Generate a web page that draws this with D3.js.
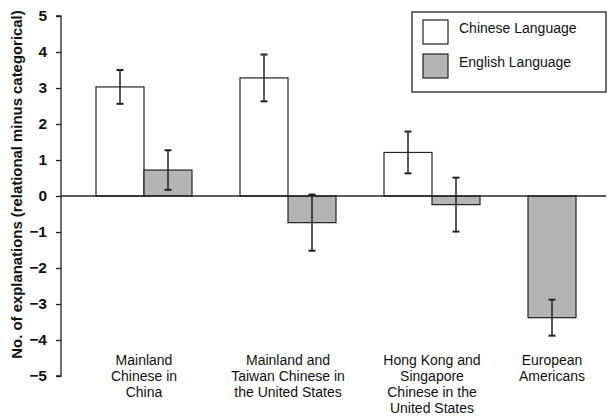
<!DOCTYPE html>
<html>
<head>
<meta charset="utf-8">
<script src="https://cdn.jsdelivr.net/npm/d3@7"></script>
<style>
  html, body { margin: 0; padding: 0; background: #fff; }
  svg { display: block; font-family: "Liberation Sans", Arial, Helvetica, sans-serif; }
</style>
</head>
<body>
<svg id="chart" width="608" height="417"></svg>
<script>
// Groups of participants (each label split into its printed lines)
const categories = [
  ["Mainland", "Chinese in", "China"],
  ["Mainland and", "Taiwan Chinese in", "the United States"],
  ["Hong Kong and", "Singapore", "Chinese in the", "United States"],
  ["European", "Americans"]
];
const categoryKeys = ["mainland", "mainlandTaiwan", "hkSingapore", "european"];

// Mean number of explanations (relational minus categorical), null = not tested
const chineseValues = [3.03, 3.28, 1.21, null];
const englishValues = [0.72, -0.74, -0.24, -3.38];
// Half-widths of the error bars
const chineseErrors = [0.47, 0.65, 0.58, null];
const englishErrors = [0.55, 0.78, 0.75, 0.50];

const seriesNames = ["Chinese Language", "English Language"];
const seriesKeys = ["chinese", "english"];
const yTicks = [5, 4, 3, 2, 1, 0, -1, -2, -3, -4, -5];
const yTitle = "No. of explanations (relational minus categorical)";

const fills = { chinese: "#ffffff", english: "#b4b4b4" };
const ink = "#222";

const svg = d3.select("#chart");

const y = d3.scaleLinear().domain([-5, 5]).range([376, 16]);

const x = d3.scaleBand()
  .domain(categoryKeys)
  .range([72, 648])
  .paddingInner(1 / 3)
  .paddingOuter(1 / 6);

// Rows: one per drawn bar
const rows = [];
categoryKeys.forEach((k, i) => {
  const present = [];
  if (chineseValues[i] != null) present.push({ s: "chinese", v: chineseValues[i], e: chineseErrors[i] });
  if (englishValues[i] != null) present.push({ s: "english", v: englishValues[i], e: englishErrors[i] });
  // Slots inside a group are laid out only for the series that were measured
  const inner = d3.scaleBand()
    .domain(present.map(p => p.s))
    .range([0, x.bandwidth() / 2 * present.length]);
  present.forEach(p => rows.push({
    cat: k, idx: i, series: p.s, value: p.v, err: p.e,
    x0: x(k) + inner(p.s), w: inner.bandwidth()
  }));
});

// Bars
svg.append("g").selectAll("rect")
  .data(rows)
  .join("rect")
  .attr("x", d => d.x0)
  .attr("y", d => y(Math.max(0, d.value)))
  .attr("width", d => d.w)
  .attr("height", d => Math.abs(y(d.value) - y(0)))
  .attr("fill", d => fills[d.series])
  .attr("stroke", ink)
  .attr("stroke-width", 1.2);

// Zero baseline across the plot
svg.append("line")
  .attr("x1", 61).attr("x2", 606)
  .attr("y1", y(0)).attr("y2", y(0))
  .attr("stroke", ink).attr("stroke-width", 1.3);

// Error bars
const eb = svg.append("g").attr("stroke", ink).attr("stroke-width", 1.5);
rows.forEach(d => {
  const cx = d.x0 + d.w / 2;
  const top = y(d.value + d.err), bot = y(d.value - d.err);
  eb.append("line").attr("x1", cx).attr("x2", cx).attr("y1", top).attr("y2", bot);
  eb.append("line").attr("x1", cx - 3.5).attr("x2", cx + 3.5).attr("y1", top).attr("y2", top).attr("stroke-width", 2);
  eb.append("line").attr("x1", cx - 3.5).attr("x2", cx + 3.5).attr("y1", bot).attr("y2", bot).attr("stroke-width", 2);
});

// Y axis
const yAxis = svg.append("g")
  .attr("transform", "translate(61,0)")
  .call(d3.axisLeft(y).tickValues(yTicks).tickFormat(d3.format("d")).tickSize(5).tickPadding(9));
yAxis.select(".domain").attr("stroke", ink).attr("stroke-width", 1.3).attr("d", `M-5,${y(5)}H0V${y(-5)}H-5`);
yAxis.selectAll(".tick line").attr("stroke", ink).attr("stroke-width", 1.3);
yAxis.selectAll(".tick text")
  .attr("fill", "#111")
  .style("font-size", "15.5px")
  .style("font-weight", "bold")
  .style("font-family", "'Liberation Sans', Arial, sans-serif");

// Y axis title
svg.append("text")
  .attr("transform", `translate(22,${(7 + 362) / 2}) rotate(-90)`)
  .attr("text-anchor", "middle")
  .attr("fill", "#111")
  .style("font-size", "14.9px")
  .style("font-weight", "bold")
  .text(yTitle);

// Category labels, centred under each group's bars
categoryKeys.forEach((k, i) => {
  const bars = rows.filter(r => r.cat === k);
  const cx = (d3.min(bars, b => b.x0) + d3.max(bars, b => b.x0 + b.w)) / 2;
  const t = svg.append("text")
    .attr("text-anchor", "middle")
    .attr("fill", "#111")
    .style("font-size", "14px");
  categories[i].forEach((line, j) => {
    t.append("tspan").attr("x", cx).attr("y", 365 + j * 16).text(line);
  });
});

// Legend
const legend = svg.append("g");
legend.append("rect")
  .attr("x", 412).attr("y", 12).attr("width", 194).attr("height", 80)
  .attr("fill", "#fff").attr("stroke", ink).attr("stroke-width", 1.3);
seriesKeys.forEach((s, i) => {
  const gy = 20 + i * 34;
  legend.append("rect")
    .attr("x", 423).attr("y", gy).attr("width", 25).attr("height", 24)
    .attr("fill", fills[s]).attr("stroke", ink).attr("stroke-width", 1.2);
  legend.append("text")
    .attr("x", 459).attr("y", gy + 13)
    .attr("fill", "#111")
    .style("font-size", "14px")
    .text(seriesNames[i]);
});
</script>
</body>
</html>
